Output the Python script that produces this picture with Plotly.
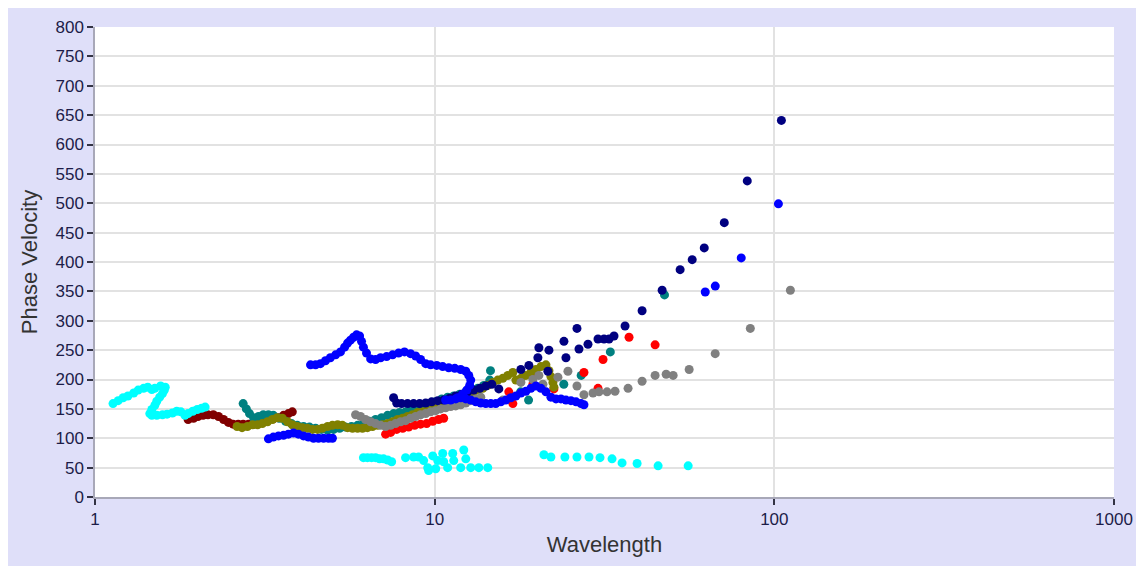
import plotly.graph_objects as go

# ---------------- data (wavelength, phase velocity) ----------------
cyan_upper_wl = [1.13, 1.17, 1.21, 1.25, 1.30, 1.34, 1.39, 1.43, 1.47, 1.50, 1.56, 1.61, 1.60, 1.58,
                 1.55, 1.52, 1.50, 1.47, 1.45, 1.47, 1.52, 1.58, 1.63, 1.69, 1.74, 1.79, 1.84, 1.88,
                 1.94, 2.00, 2.06, 2.11]
cyan_upper_v = [159, 164, 169, 172, 177, 182, 185, 187, 183, 185, 189, 187, 182, 176,
                170, 163, 156, 149, 142, 139, 139, 140, 141, 143, 146, 145, 139, 142,
                146, 149, 151, 153]

cyan_lower_wl = [6.17, 6.34, 6.52, 6.70, 6.88, 7.07, 7.27, 7.47, 8.21, 8.67, 8.97, 9.28, 9.54, 9.60,
                 9.87, 10.07, 10.21, 10.56, 10.63, 10.92, 11.30, 11.38, 11.93, 12.18, 12.35, 12.77,
                 13.49, 14.33, 20.97, 21.99, 24.18, 26.24, 28.47, 30.67, 33.28, 35.62, 39.44, 45.48, 55.76]
cyan_lower_v = [67, 67, 67, 67, 65, 65, 63, 60, 67, 68, 68, 62, 50, 45,
                70, 48, 62, 74, 60, 50, 74, 62, 50, 80, 65, 50,
                50, 50, 72, 68, 68, 68, 68, 67, 65, 58, 57, 53, 53]

maroon_wl = [1.88, 1.95, 2.01, 2.08, 2.15, 2.23, 2.31, 2.39, 2.47, 2.55, 2.64, 2.73, 2.83, 2.93,
             3.03, 3.13, 3.24, 3.35, 3.47, 3.59, 3.71, 3.81]
maroon_v = [132, 134, 137, 139, 140, 140, 137, 132, 127, 124, 124, 124, 124, 124,
            125, 128, 132, 133, 135, 139, 142, 145]

teal_wl = [2.73, 2.79, 2.85, 2.93, 3.03, 3.13, 3.24, 3.35, 3.49, 3.64, 3.79, 3.94, 4.11, 4.28,
           4.46, 4.64, 4.84, 5.04, 5.25, 5.46, 5.69, 5.93, 6.17, 6.43, 6.70, 6.98, 7.27, 7.57,
           7.88, 8.21, 8.55, 8.91, 9.28, 9.66, 10.07, 10.49, 10.92, 11.38, 11.85, 12.35, 12.86,
           13.39, 13.95, 14.53,
           14.6, 17.9, 18.9, 24.0, 27.0, 32.9, 47.5]
teal_v = [159, 150, 142, 135, 137, 140, 140, 139, 134, 129, 125, 122, 120, 119,
          117, 115, 114, 115, 117, 119, 120, 122, 125, 129, 132, 135, 139, 142,
          144, 145, 149, 150, 154, 157, 162, 167, 170, 172, 175, 179, 182,
          185, 190, 199,
          215, 179, 165, 192, 207, 247, 344]

olive_wl = [2.62, 2.71, 2.81, 2.91, 3.01, 3.11, 3.22, 3.33, 3.44, 3.56, 3.69, 3.81, 3.94, 4.08,
            4.22, 4.37, 4.52, 4.67, 4.84, 5.00, 5.18, 5.35, 5.54, 5.73, 5.93, 6.13, 6.34, 6.56,
            6.79, 7.02, 7.27, 7.52, 7.78, 8.05, 8.32, 8.61, 8.91, 9.22, 9.54, 9.87, 10.21, 10.56,
            10.92, 11.30, 11.69, 12.09, 12.51, 12.94, 13.39, 13.86, 14.33, 14.83, 15.34, 15.87,
            16.42, 16.99,
            17.34, 17.94, 18.56, 19.20, 19.87, 20.55, 21.26, 21.70, 21.99, 22.29, 22.44]
olive_v = [120, 118, 120, 123, 123, 125, 128, 132, 135, 134, 128, 123, 120, 118,
           117, 115, 115, 117, 120, 122, 123, 122, 118, 117, 117, 117, 118, 120,
           122, 123, 125, 128, 132, 134, 137, 140, 144, 145, 147, 150, 154, 155,
           159, 162, 165, 169, 172, 177, 182, 185, 190, 195, 199, 202,
           207, 212,
           199, 202, 207, 212, 217, 222, 225, 215, 205, 195, 187]

gray_wl = [5.85, 6.05, 6.26, 6.48, 6.70, 6.93, 7.17, 7.42, 7.67, 7.94, 8.21, 8.49, 8.79, 9.09,
           9.41, 9.73, 10.07, 10.41, 10.77, 11.15, 11.53, 11.93, 12.35, 12.77, 13.21, 13.67,
           15.87, 17.94, 19.46, 20.27, 20.83, 23.06, 24.68, 26.24, 27.51, 29.25, 30.47, 32.17,
           33.96, 37.10, 40.80, 44.57, 48.03, 50.36, 56.14, 66.98, 84.98, 111.5]
gray_v = [140, 137, 132, 128, 125, 122, 120, 122, 125, 128, 130, 134, 137, 140,
          142, 145, 147, 150, 152, 154, 155, 157, 160, 164, 167, 170,
          165, 195, 200, 207, 192, 204, 214, 189, 174, 177, 179, 179,
          180, 185, 197, 207, 209, 207, 217, 244, 287, 352]

red_wl = [7.17, 7.42, 7.73, 8.05, 8.38, 8.73, 9.09, 9.47, 9.87, 10.27, 10.63,
          16.53, 16.99, 19.20, 19.46, 22.44, 27.51, 30.26, 31.31, 37.35, 44.57]
red_v = [107, 110, 115, 117, 119, 122, 124, 125, 129, 132, 134,
         179, 159, 209, 192, 184, 212, 185, 234, 272, 259]

navy_wl = [7.57, 7.73, 7.99, 8.32, 8.67, 9.03, 9.41, 9.80, 10.21, 10.63, 11.07, 11.53, 12.02,
           12.51, 13.03, 13.58, 14.14, 14.73,
           15.45, 17.94, 18.94, 20.13, 20.27, 21.54, 21.70, 24.02, 24.35, 26.24, 26.60, 28.27,
           30.26, 31.52, 32.61, 33.73, 36.35, 40.80, 46.74, 52.80, 57.30, 62.18, 71.23, 83.24,
           104.9]
navy_v = [169, 160, 159, 159, 159, 159, 160, 162, 164, 165, 168, 172, 175,
          179, 182, 185, 189, 192,
          184, 217, 224, 237, 254, 214, 250, 265, 237, 287, 252, 260,
          269, 269, 269, 274, 291, 317, 352, 387, 404, 424, 467, 538,
          641]

blue_wl = [3.24, 3.35, 3.47, 3.59, 3.71, 3.84, 3.97, 4.11, 4.25, 4.40, 4.55, 4.71, 4.87, 5.00,
           4.31, 4.46, 4.61, 4.77, 4.93, 5.11, 5.28, 5.43, 5.54, 5.65, 5.77, 5.89, 6.01, 6.09,
           6.17, 6.30, 6.48, 6.70, 6.93, 7.22, 7.52, 7.83, 8.15, 8.49, 8.79, 9.09, 9.41, 9.73,
           10.14, 10.56, 11.00, 11.46, 11.93, 12.35, 12.60, 12.77, 12.68, 12.43, 12.09, 11.69,
           10.77, 11.15, 11.53, 11.93, 12.35, 12.77, 13.21, 13.67, 14.14, 14.63, 15.13, 15.66,
           16.20, 16.76, 17.34, 17.94, 18.56, 19.20, 19.87, 20.55, 21.26, 21.99, 22.76, 23.54,
           24.35, 25.19, 26.07, 26.97, 27.51,
           62.6, 67.0, 79.9, 102.8]
blue_v = [99, 102, 104, 105, 107, 109, 107, 104, 102, 100, 100, 100, 100, 100,
          225, 225, 227, 232, 237, 242, 247, 255, 262, 267, 272, 276, 274, 265,
          255, 245, 235, 234, 237, 239, 242, 245, 247, 244, 240, 234, 227, 225,
          224, 222, 220, 219, 217, 214, 207, 199, 190, 182, 175, 169,
          165, 165, 167, 169, 167, 165, 162, 160, 159, 159, 159, 162,
          165, 169, 172, 177, 180, 185, 189, 185, 179, 170, 167, 167,
          165, 164, 162, 159, 157,
          349, 359, 407, 499]

x_tick_vals = [1, 10, 100, 1000]
x_tick_text = ["1", "10", "100", "1000"]

# ---------------- figure ----------------
series = [
    ("maroon", maroon_wl, maroon_v, "#800000"),
    ("teal", teal_wl, teal_v, "#008080"),
    ("red", red_wl, red_v, "#FF0000"),
    ("olive", olive_wl, olive_v, "#808000"),
    ("gray", gray_wl, gray_v, "#808080"),
    ("cyan1", cyan_upper_wl, cyan_upper_v, "#00FFFF"),
    ("cyan2", cyan_lower_wl, cyan_lower_v, "#00FFFF"),
    ("navy", navy_wl, navy_v, "#000080"),
    ("blue", blue_wl, blue_v, "#0000FF"),
]

fig = go.Figure()
for name, xs, ys, col in series:
    fig.add_trace(go.Scatter(x=xs, y=ys, mode="markers", name=name,
                             marker=dict(size=9, color=col, line=dict(width=0)),
                             showlegend=False))

tick_font = dict(family="Liberation Sans, Arial, sans-serif", size=17, color="#1c1c48")
title_font = dict(family="Liberation Sans, Arial, sans-serif", size=22, color="#333333")

fig.update_layout(
    width=1136, height=558,
    margin=dict(l=87, r=30, t=10, b=69),
    paper_bgcolor="#DFDFF9",
    plot_bgcolor="#FFFFFF",
    xaxis=dict(type="log", range=[0, 3],
               tickvals=x_tick_vals, ticktext=x_tick_text,
               showgrid=True, gridcolor="#E2E2E2", gridwidth=1.5,
               showline=True, linecolor="#A8A8B8", linewidth=1.5,
               ticks="outside", ticklen=6, tickcolor="#333344", tickwidth=1.5,
               tickfont=tick_font, zeroline=False,
               title=dict(text="Wavelength", font=title_font, standoff=8)),
    yaxis=dict(range=[0, 800], dtick=50,
               showgrid=True, gridcolor="#E2E2E2", gridwidth=1.5,
               showline=True, linecolor="#A8A8B8", linewidth=1.5,
               ticks="outside", ticklen=6, tickcolor="#333344", tickwidth=1.5,
               tickfont=tick_font, zeroline=False,
               title=dict(text="Phase Velocity", font=title_font, standoff=12)),
)

fig.write_html("out.html")
